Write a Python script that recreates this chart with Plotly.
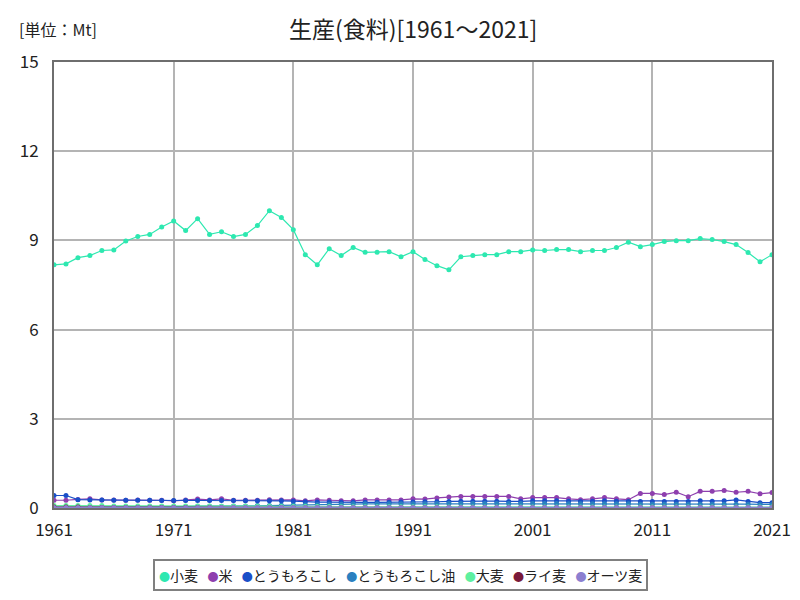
import plotly.graph_objects as go

years = list(range(1961, 2022))

wheat = [8.18, 8.21, 8.42, 8.49, 8.66, 8.68, 8.98, 9.13, 9.20, 9.45,
         9.65, 9.33, 9.73, 9.20, 9.29, 9.13, 9.20, 9.50, 10.00, 9.77,
         9.36, 8.52, 8.18, 8.72, 8.49, 8.76, 8.60, 8.60, 8.62, 8.45,
         8.62, 8.36, 8.15, 8.01, 8.45, 8.49, 8.52, 8.52, 8.62, 8.62,
         8.68, 8.66, 8.69, 8.69, 8.62, 8.66, 8.66, 8.76, 8.94, 8.79,
         8.86, 8.96, 8.99, 8.99, 9.06, 9.03, 8.96, 8.86, 8.59, 8.28,
         8.52]

rice = [0.26, 0.26, 0.29, 0.31, 0.27, 0.27, 0.26, 0.27, 0.26, 0.26,
        0.24, 0.27, 0.30, 0.27, 0.31, 0.26, 0.26, 0.26, 0.28, 0.27,
        0.27, 0.24, 0.27, 0.26, 0.24, 0.24, 0.27, 0.27, 0.27, 0.27,
        0.31, 0.30, 0.34, 0.37, 0.39, 0.39, 0.39, 0.39, 0.39, 0.31,
        0.35, 0.35, 0.35, 0.31, 0.28, 0.31, 0.35, 0.31, 0.28, 0.49,
        0.49, 0.45, 0.53, 0.38, 0.56, 0.56, 0.59, 0.53, 0.56, 0.48,
        0.52]

corn = [0.42, 0.42, 0.28, 0.27, 0.27, 0.26, 0.26, 0.26, 0.26, 0.25,
        0.25, 0.25, 0.25, 0.25, 0.25, 0.25, 0.24, 0.24, 0.24, 0.24,
        0.23, 0.21, 0.20, 0.20, 0.19, 0.19, 0.19, 0.19, 0.19, 0.20,
        0.20, 0.21, 0.21, 0.22, 0.23, 0.23, 0.23, 0.23, 0.22, 0.22,
        0.24, 0.24, 0.24, 0.23, 0.22, 0.23, 0.24, 0.23, 0.22, 0.22,
        0.22, 0.22, 0.22, 0.22, 0.24, 0.23, 0.24, 0.27, 0.22, 0.18,
        0.18]

corn_oil = [0.03, 0.03, 0.03, 0.03, 0.04, 0.04, 0.04, 0.04, 0.05, 0.05,
            0.05, 0.05, 0.06, 0.06, 0.06, 0.07, 0.07, 0.08, 0.08, 0.09,
            0.10, 0.11, 0.12, 0.13, 0.13, 0.14, 0.14, 0.14, 0.14, 0.14,
            0.14, 0.14, 0.15, 0.15, 0.15, 0.15, 0.15, 0.15, 0.15, 0.15,
            0.15, 0.15, 0.15, 0.14, 0.14, 0.14, 0.14, 0.14, 0.14, 0.13,
            0.13, 0.13, 0.13, 0.13, 0.13, 0.13, 0.13, 0.13, 0.13, 0.12,
            0.12]

barley = [0.08, 0.08, 0.08, 0.08, 0.08, 0.07, 0.07, 0.07, 0.07, 0.07,
          0.07, 0.07, 0.07, 0.07, 0.06, 0.06, 0.06, 0.06, 0.06, 0.05,
          0.05, 0.05, 0.05, 0.05, 0.04, 0.04, 0.04, 0.04, 0.04, 0.04,
          0.04, 0.04, 0.04, 0.03, 0.03, 0.03, 0.03, 0.03, 0.03, 0.03,
          0.03, 0.03, 0.03, 0.03, 0.03, 0.03, 0.03, 0.03, 0.03, 0.03,
          0.03, 0.03, 0.03, 0.03, 0.03, 0.03, 0.03, 0.03, 0.03, 0.03,
          0.03]

rye = [0.03, 0.03, 0.03, 0.02, 0.02, 0.02, 0.02, 0.02, 0.02, 0.02,
       0.02, 0.02, 0.02, 0.02, 0.01, 0.01, 0.01, 0.01, 0.01, 0.01,
       0.01, 0.01, 0.01, 0.01, 0.01, 0.01, 0.01, 0.01, 0.01, 0.01,
       0.01, 0.01, 0.01, 0.01, 0.01, 0.01, 0.01, 0.01, 0.01, 0.01,
       0.01, 0.01, 0.01, 0.01, 0.01, 0.01, 0.01, 0.01, 0.01, 0.01,
       0.01, 0.01, 0.01, 0.01, 0.01, 0.01, 0.01, 0.01, 0.01, 0.01,
       0.01]

oats = [0.02, 0.02, 0.02, 0.02, 0.02, 0.02, 0.02, 0.02, 0.02, 0.02,
        0.02, 0.02, 0.02, 0.02, 0.02, 0.02, 0.02, 0.02, 0.02, 0.02,
        0.02, 0.02, 0.02, 0.02, 0.02, 0.02, 0.02, 0.02, 0.02, 0.02,
        0.02, 0.02, 0.02, 0.02, 0.02, 0.02, 0.02, 0.02, 0.02, 0.02,
        0.02, 0.02, 0.02, 0.02, 0.02, 0.02, 0.02, 0.02, 0.02, 0.02,
        0.02, 0.02, 0.02, 0.02, 0.02, 0.02, 0.02, 0.02, 0.02, 0.02,
        0.02]

series = [
    ("小麦", wheat, "#2de8b0"),
    ("米", rice, "#8e3fae"),
    ("とうもろこし", corn, "#1a4fc8"),
    ("とうもろこし油", corn_oil, "#2a80c0"),
    ("大麦", barley, "#5ef0a0"),
    ("ライ麦", rye, "#7a1a3a"),
    ("オーツ麦", oats, "#8c7fd0"),
]

x_ticks = [1961, 1971, 1981, 1991, 2001, 2011, 2021]
y_ticks = [0, 3, 6, 9, 12, 15]

FONT = "Noto Sans CJK JP"

fig = go.Figure()
for name, vals, color in series:
    fig.add_trace(go.Scatter(
        x=years, y=vals, name=name, mode="lines+markers",
        line=dict(color=color, width=1.2),
        marker=dict(color=color, size=5),
        showlegend=False,
    ))

fig.update_layout(
    width=800, height=600,
    paper_bgcolor="white", plot_bgcolor="white",
    margin=dict(l=54, r=28, t=62, b=92, autoexpand=False),
    font=dict(family=FONT, color="#222"),
    showlegend=False,
)

# compact legend built as text with coloured dots
legend_text = "&nbsp;&nbsp;&nbsp;".join(
    f"<span style='color:{c};font-size:11px'>●</span>{n}" for n, _, c in series
)
fig.add_annotation(text=legend_text, x=(400 - 54) / 718, y=(508 - 575) / 446,
                   xref="paper", yref="paper", showarrow=False,
                   xanchor="center", yanchor="middle",
                   bordercolor="#808080", borderwidth=2, borderpad=4,
                   bgcolor="white",
                   font=dict(size=14, family=FONT, color="#222"))

fig.add_annotation(text="生産(食料)[1961～2021]", x=(413 - 54) / 718, y=1 + (62 - 28) / 446,
                   xref="paper", yref="paper", showarrow=False,
                   xanchor="center", yanchor="middle",
                   font=dict(size=23, family=FONT, color="#222"))
fig.add_annotation(text="[単位：Mt]", x=(17 - 54) / 718, y=1 + (62 - 29) / 446,
                   xref="paper", yref="paper", showarrow=False,
                   xanchor="left", yanchor="middle",
                   font=dict(size=16, family=FONT, color="#222"))

fig.update_xaxes(
    range=[1961, 2021], tickvals=x_ticks, ticktext=[str(v) for v in x_ticks],
    showgrid=True, gridcolor="#b4b4b4", gridwidth=2,
    showline=True, linecolor="#6e6e6e", linewidth=2, mirror=True,
    ticks="", ticklabelstandoff=6,
    tickfont=dict(size=17, family=FONT, color="#222"), zeroline=False,
)
fig.update_yaxes(
    range=[0, 15], tickvals=y_ticks, ticktext=[str(v) for v in y_ticks],
    showgrid=True, gridcolor="#b4b4b4", gridwidth=2,
    showline=True, linecolor="#6e6e6e", linewidth=2, mirror=True,
    ticks="", ticklabelstandoff=10,
    tickfont=dict(size=17, family=FONT, color="#222"), zeroline=False,
)

fig.write_html("out.html")
